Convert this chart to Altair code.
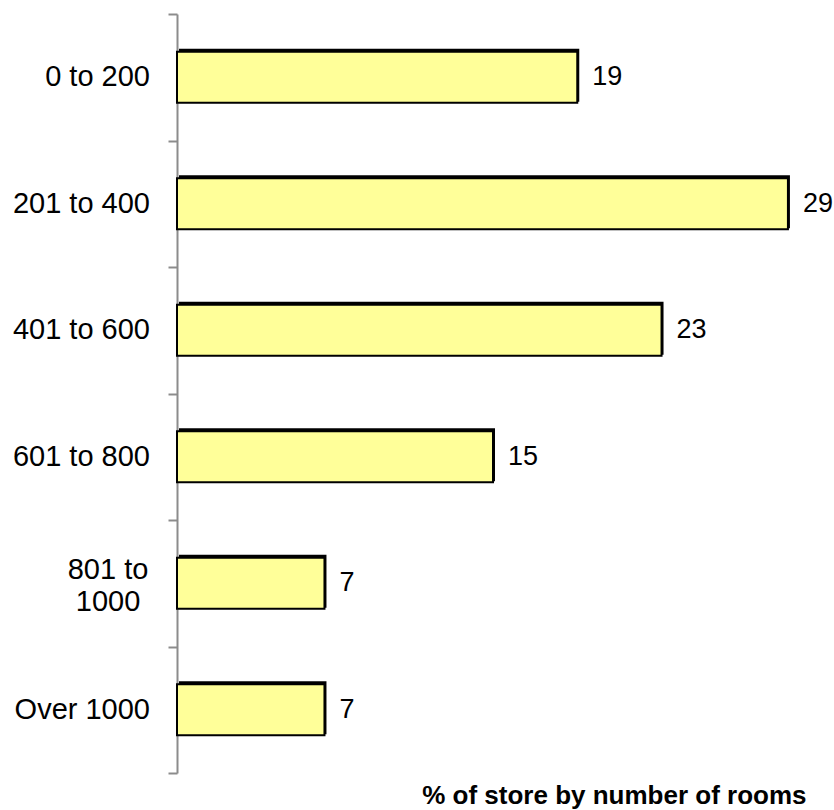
import altair as alt
import pandas as pd

categories = ["0 to 200", "201 to 400", "401 to 600", "601 to 800", "801 to 1000", "Over 1000"]
values = [19, 29, 23, 15, 7, 7]
multiline = {"801 to 1000": ["801 to", "1000"]}

df = pd.DataFrame({"cat": categories, "val": values})
df["multi"] = df["cat"].isin(list(multiline.keys()))

y_enc = alt.Y(
    "cat:N",
    sort=categories,
    scale=alt.Scale(paddingInner=0, paddingOuter=0),
    axis=alt.Axis(
        title=None,
        tickBand="extent",
        domainColor="#8c8c8c",
        domainWidth=2,
        tickColor="#8c8c8c",
        tickWidth=2,
        tickSize=9,
        labels=False,
        grid=False,
    ),
)
x_enc = alt.X(
    "val:Q",
    scale=alt.Scale(domain=[0, 30], nice=False, zero=True),
    axis=alt.Axis(
        title="% of store by number of rooms",
        titleFont="Liberation Sans",
        titleFontSize=26,
        titleFontWeight="bold",
        titleColor="black",
        titleAnchor="end",
        titleAlign="right",
        titleBaseline="alphabetic",
        titleY=30,
        titleX=629,
        labels=False,
        ticks=False,
        domain=False,
        grid=False,
    ),
)

base = alt.Chart(df)

shadow = base.mark_bar(color="black", size=53, xOffset=2, yOffset=-2).encode(x=x_enc, y=y_enc)
bars = base.mark_bar(color="#FFFF99", stroke="black", strokeWidth=2, size=51).encode(x=x_enc, y=y_enc)
labels = base.mark_text(
    align="left", baseline="middle", dx=15, font="Liberation Sans", fontSize=27, color="black"
).encode(x=x_enc, y=y_enc, text="val:Q")

cat_single = base.transform_filter("!datum.multi").mark_text(
    align="right", baseline="middle", font="Liberation Sans", fontSize=29, color="black"
).encode(x=alt.value(-27), y=y_enc, text="cat:N")

cat_multi = base.transform_filter("datum.multi").transform_calculate(
    lbl="split(replace(datum.cat, ' 1000', '|1000'), '|')"
).mark_text(
    align="center", baseline="middle", font="Liberation Sans", fontSize=29, color="black",
    lineHeight=32, dy=-13,
).encode(x=alt.value(-69), y=y_enc, text="lbl:N")

chart = (
    alt.layer(shadow, bars, labels, cat_single, cat_multi)
    .properties(
        width=632,
        height=759,
        autosize=alt.AutoSizeParams(type="none"),
        padding={"left": 177, "top": 14, "right": 25, "bottom": 37},
        background="white",
    )
    .configure_view(stroke=None)
)

chart.save("out.html", embed_options={"renderer": "svg", "actions": False})
